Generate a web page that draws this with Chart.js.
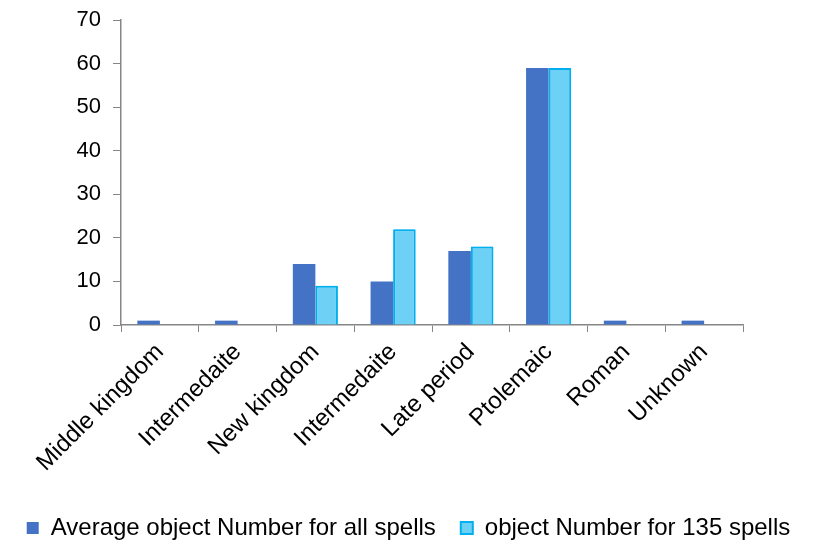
<!DOCTYPE html>
<html lang="en">
<head>
    <meta charset="UTF-8">
    <title>Objects by period</title>
    <style>
        body { margin: 0; background: #fff; }
        .chart-box { width: 817px; height: 546px; }
    </style>
</head>
<body>
    <div class="chart-box">
        <canvas id="barChart"></canvas>
    </div>
    <script src="https://cdn.jsdelivr.net/npm/chart.js"></script>
    <script>
        const periods = ['Middle kingdom', 'Intermedaite', 'New kingdom', 'Intermedaite', 'Late period', 'Ptolemaic', 'Roman', 'Unknown'];
        const avgAllSpells = [1, 1, 14, 10, 17, 59, 1, 1];
        const spells135 = [0, 0, 9, 22, 18, 59, 0, 0];
        const yTicks = [0, 10, 20, 30, 40, 50, 60, 70];

        const fontFamily = "'Liberation Sans', Arial, sans-serif";

        // soft glow behind the light blue bars
        const glowPlugin = {
            id: 'glow',
            beforeDatasetDraw(chart, args) {
                if (args.index === 1) {
                    chart.ctx.save();
                    chart.ctx.shadowColor = 'rgba(0, 176, 240, 0.4)';
                    chart.ctx.shadowBlur = 7;
                }
            },
            afterDatasetDraw(chart, args) {
                if (args.index === 1) chart.ctx.restore();
            }
        };

        const ctx = document.getElementById('barChart').getContext('2d');
        new Chart(ctx, {
            type: 'bar',
            data: {
                labels: periods,
                datasets: [
                    {
                        label: 'Average object Number for all spells',
                        data: avgAllSpells,
                        backgroundColor: '#4472C4',
                        borderColor: '#4472C4',
                        borderWidth: 0,
                        yAxisID: 'y'
                    },
                    {
                        label: 'object Number for 135 spells',
                        data: spells135,
                        backgroundColor: '#6DD0F5',
                        borderColor: '#00B0F0',
                        borderWidth: 2,
                        yAxisID: 'y'
                    }
                ]
            },
            plugins: [glowPlugin],
            options: {
                responsive: true,
                maintainAspectRatio: false,
                animation: false,
                datasets: {
                    bar: { categoryPercentage: 0.58, barPercentage: 1.0 }
                },
                layout: { padding: { left: 0, right: 0, top: 20, bottom: -4 } },
                plugins: {
                    tooltip: { enabled: false },
                    legend: {
                        position: 'bottom',
                        labels: {
                            color: '#000',
                            font: { family: fontFamily, size: 24 },
                            boxWidth: 12,
                            boxHeight: 12,
                            padding: 25
                        }
                    }
                },
                scales: {
                    x: {
                        grid: { drawOnChartArea: false, color: '#868686', tickLength: 7 },
                        border: { color: '#868686', width: 1.5 },
                        ticks: {
                            color: '#000',
                            font: { family: fontFamily, size: 24 },
                            minRotation: 45,
                            maxRotation: 45,
                            padding: 6
                        },
                        afterFit(axis) { axis.height = 166; }
                    },
                    y: {
                        min: 0,
                        max: 70,
                        afterBuildTicks(axis) {
                            axis.ticks = yTicks.map(v => ({ value: v }));
                        },
                        grid: { drawOnChartArea: false, color: '#868686', tickLength: 8 },
                        border: { color: '#868686', width: 1.5 },
                        ticks: {
                            color: '#000',
                            font: { family: fontFamily, size: 22 },
                            padding: 12
                        },
                        afterFit(axis) {
                            axis.width = 121;
                            axis.paddingTop = 0;
                        }
                    },
                    // empty axis that only reserves the right margin
                    right: {
                        position: 'right',
                        grid: { display: false },
                        border: { display: false },
                        ticks: { display: false },
                        afterFit(axis) { axis.width = 74; }
                    }
                }
            }
        });
    </script>
</body>
</html>
